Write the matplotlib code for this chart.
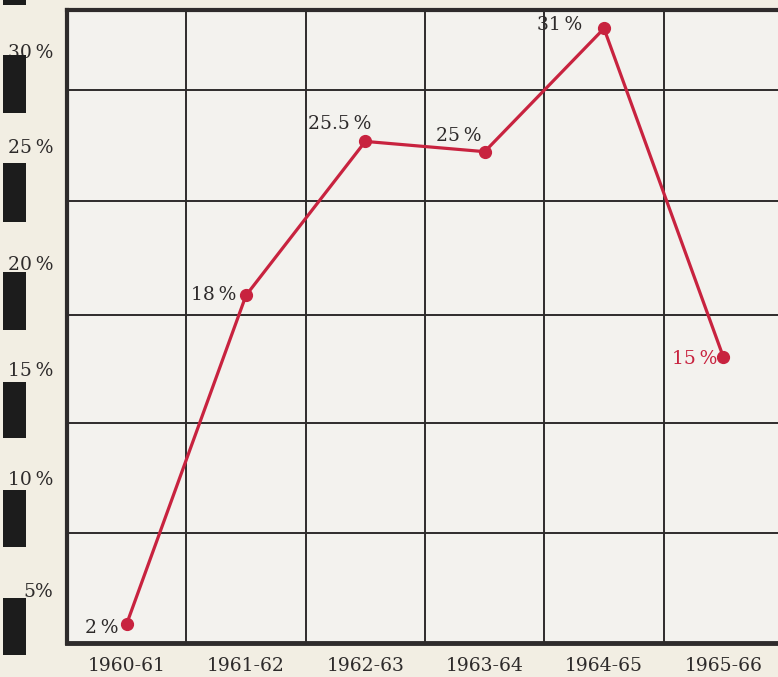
import matplotlib.pyplot as plt
from matplotlib.patches import Rectangle

# data
years = ["1960-61", "1961-62", "1962-63", "1963-64", "1964-65", "1965-66"]
share = [2, 18, 25.5, 25, 31, 15]
point_labels = ["2\u2009%", "18\u2009%", "25.5\u2009%", "25\u2009%", "31\u2009%", "15\u2009%"]
y_labels = ["30\u2009%", "25\u2009%", "20\u2009%", "15\u2009%", "10\u2009%", "5%"]

# layout (pixel-ish, derived from the scan)
W, H = 778, 677
y_label_pos = [29.9, 25.3, 19.6, 14.4, 9.1, 3.65]
grid_y = [6.43, 11.8, 17.05, 22.6, 28.0]
label_offsets = [(-8, -4, "right"), (-10, 0, "right"), (-26, 17, "center"),
                 (-26, 16, "center"), (-44, 3, "center"), (-6, -2, "right")]

red = "#c8233f"
ink = "#2e2b2b"
font = "DejaVu Serif"

fig = plt.figure(figsize=(W / 100, H / 100), dpi=100)
fig.patch.set_facecolor("#f2eee3")

# black index tabs on the page edge
for top, bot in [(-5, 5), (55, 113), (163, 222), (272, 330), (382, 438), (490, 547), (598, 655)]:
    fig.patches.append(Rectangle((3 / W, 1 - bot / H), 23 / W, (bot - top) / H,
                                 transform=fig.transFigure, facecolor="#1c1c1c",
                                 edgecolor="none", zorder=0))

ax = fig.add_axes([67 / W, (H - 643) / H, (783 - 67) / W, (643 - 10) / H])
ax.set_facecolor("#f3f2ee")
ax.set_xlim(-0.5, 5.5)
ax.set_ylim(1.07, 31.9)

for gy in grid_y:
    ax.axhline(gy, color=ink, lw=1.4, zorder=1)
for gx in [0.5, 1.5, 2.5, 3.5, 4.5]:
    ax.axvline(gx, color=ink, lw=1.4, zorder=1)

x = list(range(len(years)))
ax.plot(x, share, color=red, lw=2.3, marker="o", ms=8.5, zorder=3, solid_capstyle="round")

for i, (v, lab) in enumerate(zip(share, point_labels)):
    dx, dy, ha = label_offsets[i]
    ax.annotate(lab, (i, v), xytext=(dx, dy), textcoords="offset pixels",
                ha=ha, va="center", fontsize=13.5, family=font,
                color=red if i == len(share) - 1 else ink, zorder=4)

ax.set_xticks(x)
ax.set_xticklabels(years, fontsize=13.5, family=font, color=ink)
ax.set_yticks(y_label_pos)
ax.set_yticklabels(y_labels, fontsize=13.5, family=font, color=ink)
ax.tick_params(length=0, pad=10)
ax.tick_params(axis="x", pad=10)

for side in ["left", "top", "bottom"]:
    ax.spines[side].set_color(ink)
ax.spines["left"].set_linewidth(3)
ax.spines["top"].set_linewidth(3)
ax.spines["bottom"].set_linewidth(3.5)
ax.spines["right"].set_visible(False)

fig.savefig("out.png", dpi=100, facecolor=fig.get_facecolor())
